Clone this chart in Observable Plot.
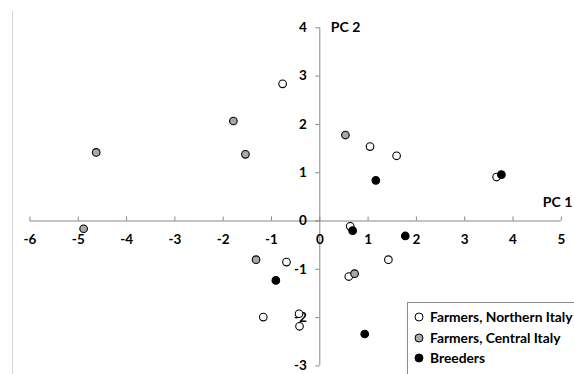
<!DOCTYPE html>
<html>
<head>
<meta charset="utf-8">
<script src="https://cdn.jsdelivr.net/npm/d3@7"></script>
<script src="https://cdn.jsdelivr.net/npm/@observablehq/plot@0.6"></script>
<style>
  html, body { margin: 0; padding: 0; background: #fff; }
  #wrap { position: relative; width: 574px; height: 374px; overflow: hidden; font-family: Lato, "Open Sans", sans-serif; }
  #border { position: absolute; left: 12px; top: 11px; width: 1px; height: 400px; background: #d4d4d4; }
  #legend { position: absolute; left: 407px; top: 302px; width: 200px; height: 100px; border-left: 1px solid #8c8c8c; border-top: 1px solid #8c8c8c; background: #fff; }
  .item { position: absolute; left: 6px; display: flex; align-items: center; font-weight: bold; font-size: 13.8px; color: #000; white-space: nowrap; }
  .item svg { margin-right: 6px; }
</style>
</head>
<body>
<div id="wrap"><div id="border"></div></div>
<script>
const groups = ["Farmers, Northern Italy", "Farmers, Central Italy", "Breeders"];
const groupFill = ["#ffffff", "#a8a8a8", "#000000"];

const northPC1 = [-0.77, 1.04, 1.59, 3.66, -0.69, -1.17, -0.43, -0.42, 0.63, 1.42, 0.60];
const northPC2 = [2.84, 1.54, 1.35, 0.91, -0.85, -1.99, -1.92, -2.18, -0.11, -0.80, -1.15];
const centralPC1 = [-1.79, -4.63, -1.54, 0.53, -4.89, -1.32, 0.72];
const centralPC2 = [2.07, 1.42, 1.38, 1.78, -0.16, -0.80, -1.09];
const breederPC1 = [1.16, 3.76, -0.91, 0.68, 1.77, 0.93];
const breederPC2 = [0.84, 0.96, -1.23, -0.20, -0.31, -2.34];

const xTicks = [-6, -5, -4, -3, -2, -1, 0, 1, 2, 3, 4, 5];
const yTicks = [-3, -2, -1, 0, 1, 2, 3, 4];
const xLabel = "PC 1";
const yLabel = "PC 2";

const pts = [];
[[northPC1, northPC2], [centralPC1, centralPC2], [breederPC1, breederPC2]].forEach(([xs, ys], g) => {
  xs.forEach((x, i) => pts.push({pc1: x, pc2: ys[i], group: groups[g]}));
});

const axisColor = "#868686";

const chart = Plot.plot({
  width: 574,
  height: 374,
  marginLeft: 29.5,
  marginRight: 13.2,
  marginTop: 27.3,
  marginBottom: 8.6,
  x: {domain: [-6, 5], axis: null},
  y: {domain: [-3, 4], axis: null},
  color: {domain: groups, range: groupFill},
  style: {fontFamily: "Lato, 'Open Sans', sans-serif", fontWeight: "bold", fontSize: "13.5px", background: "transparent", overflow: "visible"},
  marks: [
    Plot.ruleY([0], {stroke: axisColor, strokeWidth: 1}),
    Plot.ruleX([0], {stroke: axisColor, strokeWidth: 1}),
    Plot.ruleX(xTicks, {x: d => d, y1: 0, y2: 0, insetTop: -4, stroke: axisColor}),
    Plot.ruleY(yTicks, {y: d => d, x1: 0, x2: 0, insetLeft: -4, stroke: axisColor}),
    Plot.text(xTicks, {x: d => d, y: 0, text: d => String(d), dy: 19, fill: "#000", fontWeight: "bold", fontSize: 13.5}),
    Plot.text(yTicks, {x: 0, y: d => d, text: d => String(d), dx: -13, textAnchor: "end", fill: "#000", fontWeight: "bold", fontSize: 13.5}),
    Plot.text([yLabel], {x: 0, y: 4, text: d => d, dx: 11, textAnchor: "start", fill: "#000", fontWeight: "bold", fontSize: 14}),
    Plot.text([xLabel], {x: 5, y: 0, text: d => d, dx: 11, dy: -18, textAnchor: "end", fill: "#000", fontWeight: "bold", fontSize: 14}),
    Plot.dot(pts, {x: "pc1", y: "pc2", fill: "group", stroke: "#000", strokeWidth: 1.1, r: 3.8})
  ]
});
const wrap = document.getElementById("wrap");
chart.style.position = "absolute";
chart.style.left = "0px";
chart.style.top = "0px";
wrap.appendChild(chart);

const legend = document.createElement("div");
legend.id = "legend";
const tops = [5, 26, 46];
groups.forEach((g, i) => {
  const it = document.createElement("div");
  it.className = "item";
  it.style.top = tops[i] + "px";
  it.innerHTML = `<svg width="10" height="10"><circle cx="5" cy="5" r="4" fill="${groupFill[i]}" stroke="#000" stroke-width="1"/></svg><span>${g}</span>`;
  legend.appendChild(it);
});
wrap.appendChild(legend);
</script>
</body>
</html>
